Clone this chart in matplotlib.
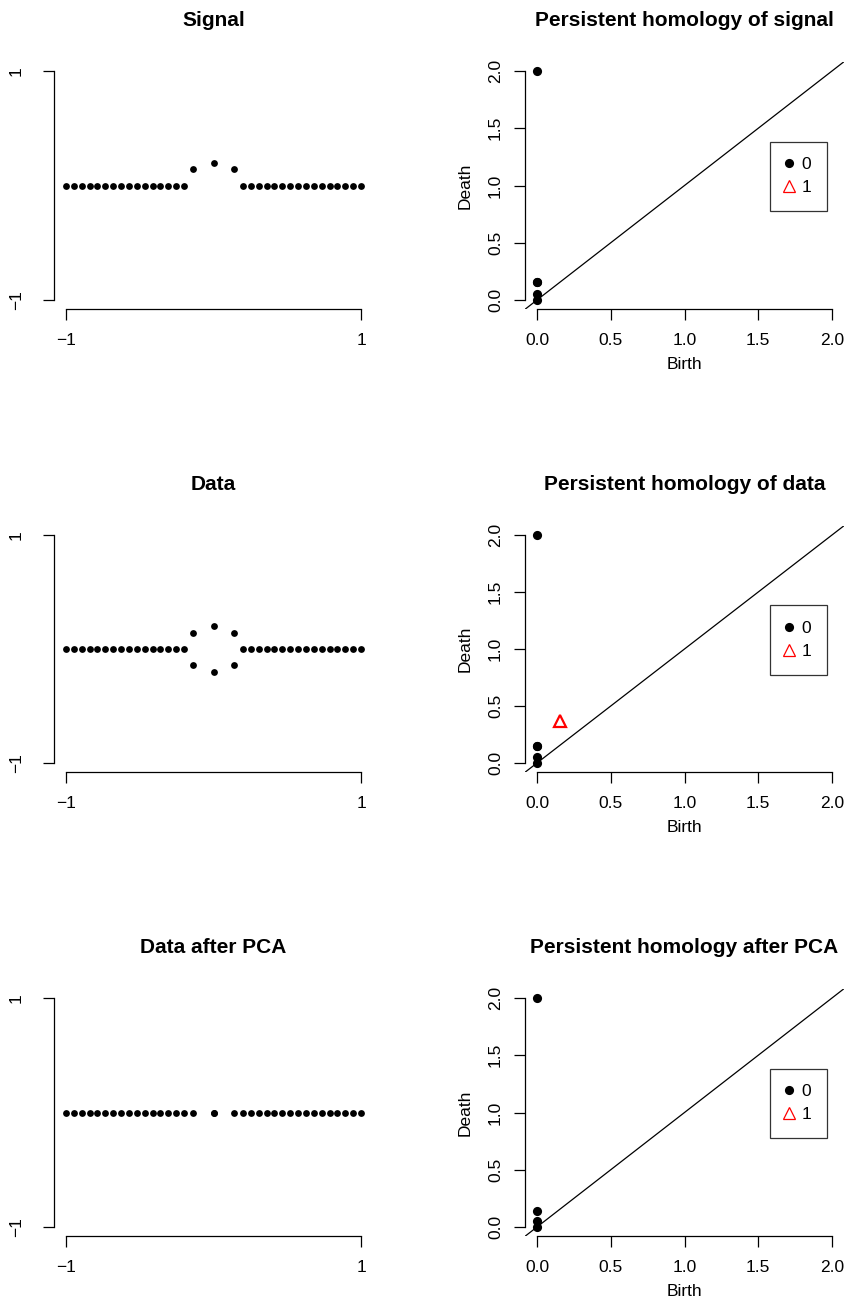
import matplotlib
matplotlib.use("Agg")
import matplotlib.pyplot as plt
from matplotlib.lines import Line2D

plt.rcParams['font.family'] = ['Liberation Sans', 'DejaVu Sans']

# ---------------- data ----------------
line_left_x = [-1.0, -0.947, -0.893, -0.84, -0.787, -0.733, -0.68, -0.627,
               -0.573, -0.52, -0.467, -0.413, -0.36, -0.307, -0.253, -0.2]
line_right_x = [0.2, 0.253, 0.307, 0.36, 0.413, 0.467, 0.52, 0.573,
                0.627, 0.68, 0.733, 0.787, 0.84, 0.893, 0.947, 1.0]
arc_x = [-0.141, 0.0, 0.141]
arc_top_y = [0.141, 0.2, 0.141]
arc_bottom_y = [-0.141, -0.2, -0.141]

signal_x = line_left_x + arc_x + line_right_x
signal_y = [0.0] * 16 + arc_top_y + [0.0] * 16

data_x = line_left_x + arc_x + arc_x + line_right_x
data_y = [0.0] * 16 + arc_top_y + arc_bottom_y + [0.0] * 16

pca_x = line_left_x + [-0.141, 0.0, 0.0, 0.141] + line_right_x
pca_y = [0.0] * 36

signal_h0_birth = [0.0, 0.0, 0.0, 0.0, 0.0]
signal_h0_death = [2.0, 0.153, 0.153, 0.053, 0.0]
signal_h1_birth = []
signal_h1_death = []

data_h0_birth = [0.0, 0.0, 0.0, 0.0, 0.0]
data_h0_death = [2.0, 0.153, 0.153, 0.053, 0.0]
data_h1_birth = [0.153]
data_h1_death = [0.37]

pca_h0_birth = [0.0, 0.0, 0.0, 0.0]
pca_h0_death = [2.0, 0.141, 0.053, 0.0]
pca_h1_birth = []
pca_h1_death = []

left_titles = ["Signal", "Data", "Data after PCA"]
right_titles = ["Persistent homology of signal", "Persistent homology of data",
                "Persistent homology after PCA"]
left_ticks = [-1, 1]
left_ticklabels = ["\u22121", "1"]
pd_ticks = [0.0, 0.5, 1.0, 1.5, 2.0]
pd_ticklabels = ["0.0", "0.5", "1.0", "1.5", "2.0"]
legend_labels = ["0", "1"]

# ---------------- layout ----------------
W, H = 851, 1312
fig = plt.figure(figsize=(W / 100, H / 100), dpi=100)

row_ticks_px = [(71, 300), (535, 763), (998, 1227)]
left_col_px = (66, 361)
right_col_px = (537, 832)

TICK_FS = 12.5
TITLE_FS = 15
LW = 0.9


def add_axes_px(xt, yt):
    x_lo, x_hi = xt
    y_top, y_bot = yt
    ex = 0.04 * (x_hi - x_lo)
    ey = 0.04 * (y_bot - y_top)
    x0, x1 = x_lo - ex, x_hi + ex
    y0, y1 = y_top - ey, y_bot + ey
    return fig.add_axes([x0 / W, 1 - y1 / H, (x1 - x0) / W, (y1 - y0) / H])


def style_axes(ax, lo, hi, ticks, labels, ypad):
    ax.set_xlim(lo - 0.04 * (hi - lo), hi + 0.04 * (hi - lo))
    ax.set_ylim(lo - 0.04 * (hi - lo), hi + 0.04 * (hi - lo))
    for s in ['top', 'right']:
        ax.spines[s].set_visible(False)
    for s in ['left', 'bottom']:
        ax.spines[s].set_bounds(lo, hi)
        ax.spines[s].set_linewidth(LW)
    ax.set_xticks(ticks)
    ax.set_xticklabels(labels)
    ax.set_yticks(ticks)
    ax.set_yticklabels(labels, rotation=90, va='center')
    ax.tick_params(axis='both', direction='out', length=7.9, width=LW,
                   labelsize=TICK_FS)
    ax.tick_params(axis='x', pad=9)
    ax.tick_params(axis='y', pad=ypad)


left_data = [(signal_x, signal_y), (data_x, data_y), (pca_x, pca_y)]
right_data = [
    (signal_h0_birth, signal_h0_death, signal_h1_birth, signal_h1_death),
    (data_h0_birth, data_h0_death, data_h1_birth, data_h1_death),
    (pca_h0_birth, pca_h0_death, pca_h1_birth, pca_h1_death),
]

for r in range(3):
    # left: point clouds
    ax = add_axes_px(left_col_px, row_ticks_px[r])
    style_axes(ax, -1, 1, left_ticks, left_ticklabels, ypad=14)
    x, y = left_data[r]
    ax.plot(x, y, 'o', color='black', markersize=4.9, markeredgewidth=0)
    ax.set_title(left_titles[r], fontsize=TITLE_FS, fontweight='bold', pad=26)

    # right: persistence diagrams
    ax = add_axes_px(right_col_px, row_ticks_px[r])
    style_axes(ax, 0, 2, pd_ticks, pd_ticklabels, ypad=8)
    ax.axline((0, 0), slope=1, color='black', linewidth=LW)
    b0, d0, b1, d1 = right_data[r]
    ax.plot(b0, d0, 'o', color='black', markersize=6.6, markeredgewidth=0,
            zorder=3)
    if len(b1):
        ax.plot(b1, d1, '^', markerfacecolor='none', markeredgecolor='red',
                markersize=8.5, markeredgewidth=1.6, zorder=3)
    ax.set_title(right_titles[r], fontsize=TITLE_FS, fontweight='bold', pad=26)
    ax.set_xlabel("Birth", fontsize=TICK_FS)
    ax.set_ylabel("Death", fontsize=TICK_FS)
    ax.xaxis.set_label_coords(0.5, -0.195)
    ax.yaxis.set_label_coords(-0.165, 0.5)

    handles = [
        Line2D([], [], marker='o', linestyle='none', color='black',
               markersize=6.6, markeredgewidth=0),
        Line2D([], [], marker='^', linestyle='none', markerfacecolor='none',
               markeredgecolor='red', markersize=8.0, markeredgewidth=0.9),
    ]
    leg = ax.legend(handles, legend_labels, loc='center right',
                    bbox_to_anchor=(0.947, 0.537), fontsize=TICK_FS,
                    frameon=True, fancybox=False, edgecolor='black',
                    borderpad=0.9, handlelength=0.35, handletextpad=0.55,
                    labelspacing=0.45, borderaxespad=0)
    leg.get_frame().set_linewidth(LW)

fig.savefig("out.png", dpi=100, facecolor='white')
